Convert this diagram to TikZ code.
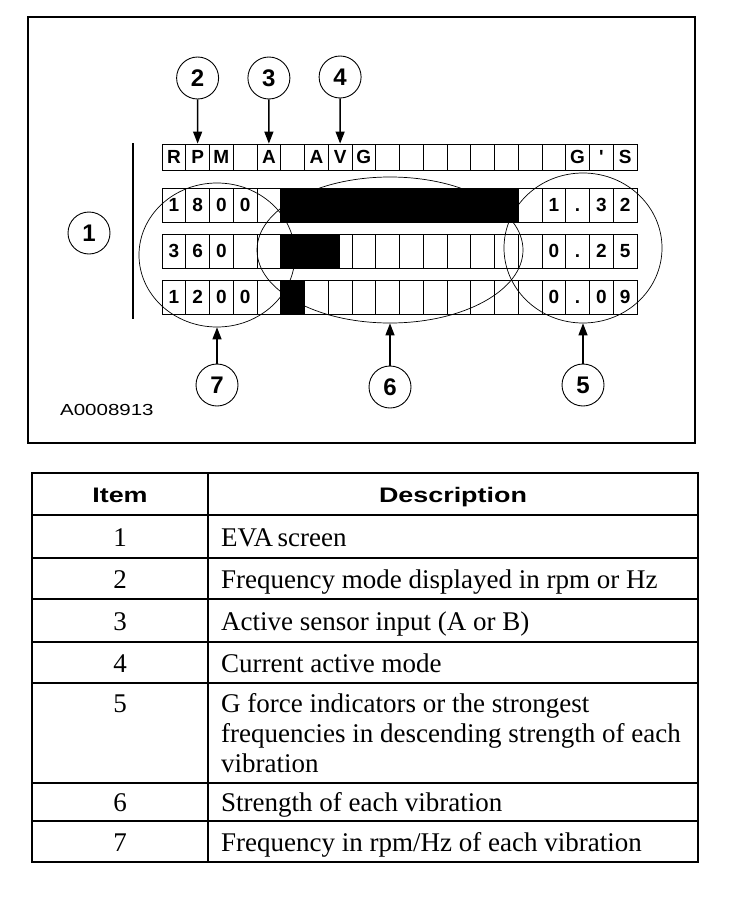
\documentclass[tikz,border=0pt]{standalone}
\usepackage{fontspec}
\setmainfont{Liberation Serif}
\setsansfont{Liberation Sans}
\newfontfamily\wideface{Liberation Sans}[FakeStretch=1.28]
\usetikzlibrary{arrows.meta,shapes.geometric}

\tikzset{
  cell/.style={draw, line width=0.8pt, minimum width=23.75pt, minimum height=#1, inner sep=0pt,
    font=\sffamily\bfseries\fontsize{19}{19}\selectfont},
  digit/.style={inner sep=0pt, text height=13.5pt, text depth=0pt,
    font=\sffamily\bfseries\fontsize{19}{19}\selectfont},
  callout/.style={draw, circle, line width=0.9pt, minimum size=42pt, inner sep=0pt,
    font=\sffamily\bfseries\fontsize{24}{24}\selectfont},
  zone/.style={draw, ellipse, line width=0.7pt, inner sep=0pt},
  pointer/.style={line width=1.3pt, -{Triangle[length=12pt,width=9pt]}},
  head/.style={anchor=base, inner sep=0pt, font=\wideface\bfseries\fontsize{21}{21}\selectfont},
  itemno/.style={anchor=base, inner sep=0pt, font=\fontsize{27}{30}\selectfont},
  desc/.style={anchor=base west, inner sep=0pt, font=\fontsize{27}{30}\selectfont, align=left},
}

\begin{document}
\begin{tikzpicture}[x=1pt,y=-1pt]
\useasboundingbox (0,0) rectangle (752,902);

% screen
\draw[line width=2pt] (28,17) rectangle (695,443);
\draw[line width=2pt] (133,143) -- (133,319);

\foreach \k/\ch in {1/R,2/P,3/M,4/{},5/A,6/{},7/A,8/V,9/G,10/{},11/{},12/{},13/{},14/{},15/{},16/{},17/{},18/G,19/\textquotesingle,20/S} {
    \node[cell=26pt] (top\k) at ({162+23.75*(\k-0.5)},157) {\ch};
}
\foreach \r/\yc in {A/205,B/251,C/297} {
    \foreach \k in {1,...,20}
        \node[cell=34pt] (\r\k) at ({162+23.75*(\k-0.5)},\yc) {};
}
\foreach \r/\k/\ch in {A/1/1,A/2/8,A/3/0,A/4/0,A/17/1,A/18/.,A/19/3,A/20/2,
                       B/1/3,B/2/6,B/3/0,B/17/0,B/18/.,B/19/2,B/20/5,
                       C/1/1,C/2/2,C/3/0,C/4/0,C/17/0,C/18/.,C/19/0,C/20/9} {
    \node[digit] (d\r\k) at (\r\k) {\ch};
}

% bars
\fill (A6.north west) rectangle (A15.south east);
\fill (B6.north west) rectangle (B8.south);
\fill (C6.north west) rectangle (C6.south east);

\node[zone, minimum width=156pt, minimum height=144pt] (freq) at (217,255) {};
\node[zone, minimum width=266pt, minimum height=146pt] (strength) at (390,250) {};
\node[zone, minimum width=158pt, minimum height=150pt] (gforce) at (583,248) {};

\node[callout] (n1) at (89,233) {1};
\node[callout] (n2) at (197.6,78) {2};
\node[callout] (n3) at (268.9,78) {3};
\node[callout] (n4) at (340.1,77) {4};
\node[callout] (n7) at (217,385) {7};
\node[callout] (n6) at (390,387) {6};
\node[callout] (n5) at (583,385) {5};

\draw[pointer] (n2) -- (top2);
\draw[pointer] (n3) -- (top5);
\draw[pointer] (n4) -- (top8);
\draw[pointer] (n7) -- (freq.south);
\draw[pointer] (n6) -- (strength.south);
\draw[pointer] (n5) -- (gforce.south);

\node[anchor=west, inner sep=0pt, font=\wideface\fontsize{16}{16}\selectfont] (figid) at (60,410) {A0008913};

% table
\draw[line width=1.6pt] (32,473) rectangle (698,862);
\draw[line width=1.3pt] (208,473) -- (208,862);
\foreach \y in {515,558,599,642,683,783,821}
    \draw[line width=1.3pt] (32,\y) -- (698,\y);

\node[head] (hitem) at (120,502) {Item};
\node[head] (hdesc) at (453,502) {Description};

\foreach \n/\y/\txt in {1/546/EVA\,screen,
                        2/588/Frequency mode displayed in rpm or Hz,
                        3/630/Active sensor input (A or B),
                        4/672/Current active mode,
                        6/811/Strength of each vibration,
                        7/851/{Frequency in rpm/Hz of each vibration}} {
    \node[itemno] (item\n) at (120,\y) {\n};
    \node[desc] (desc\n) at (221,\y) {\txt};
}
\node[itemno] (item5) at (120,712) {5};
\node[desc, anchor=north west] (desc5) at (221,693)
    {G force indicators or the strongest\\frequencies in descending strength of each\\vibration};
\end{tikzpicture}
\end{document}
